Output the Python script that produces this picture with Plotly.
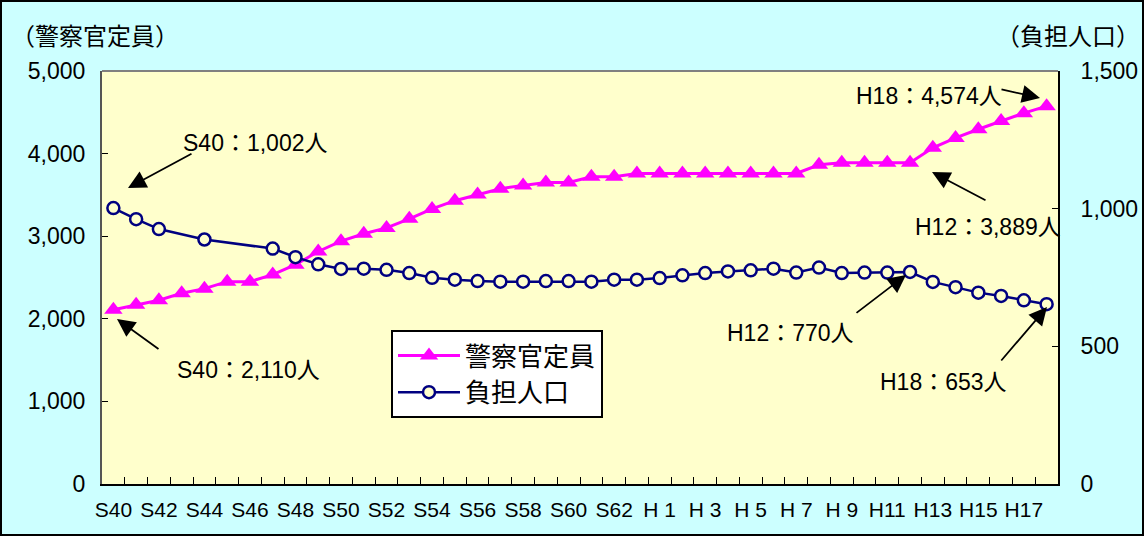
import plotly.graph_objects as go

# ---- data ----
categories = [f"S{n}" for n in range(40, 64)] + [f"H{n}" for n in range(1, 19)]
tick_labels = ["S40", "S42", "S44", "S46", "S48", "S50", "S52", "S54", "S56", "S58",
               "S60", "S62", "H 1", "H 3", "H 5", "H 7", "H 9", "H11", "H13", "H15", "H17"]
police = [2110, 2170, 2225, 2310, 2365, 2450, 2450, 2535, 2655, 2815, 2940, 3030,
          3100, 3210, 3330, 3430, 3505, 3575, 3615, 3650, 3650, 3720, 3720, 3760,
          3760, 3760, 3760, 3760, 3760, 3760, 3760, 3865, 3889, 3889, 3889, 3889,
          4070, 4190, 4295, 4395, 4490, 4574]
burden = [1002, 962, 926, None, 888, None, None, 855, 824, 798, 781, 782,
          778, 766, 749, 742, 737, 735, 735, 737, 737, 735, 742, 742,
          748, 758, 766, 772, 776, 782, 768, 786, 766, 768, 768, 770,
          734, 715, 695, 683, 667, 653]
name_police = "警察官定員"
name_burden = "負担人口"

# ---- layout geometry ----
W, H = 1144, 536
ML, MR, MT, MB = 102, 86, 71, 52
PW, PH = W - ML - MR, H - MT - MB


def px(x):
    return (x - ML) / PW


def py(y):
    return (H - MB - y) / PH


FONT = "Liberation Sans, Arial, Noto Sans CJK JP, sans-serif"
NARROW = "Liberation Sans Narrow, Arial Narrow, Liberation Sans, Noto Sans CJK JP, sans-serif"

fig = go.Figure()
fig.add_trace(go.Scatter(
    x=categories, y=police, name=name_police, mode="lines+markers",
    line=dict(color="#FF00FF", width=3),
    marker=dict(symbol="triangle-up", size=16, color="#FF00FF"),
    yaxis="y",
))
fig.add_trace(go.Scatter(
    x=categories, y=burden, name=name_burden, mode="lines+markers",
    connectgaps=True,
    line=dict(color="#000080", width=2.5),
    marker=dict(symbol="circle", size=12, color="#FFFFCC",
                line=dict(color="#000080", width=2.5)),
    yaxis="y2",
))

ticktext = []
li = 0
for i, c in enumerate(categories):
    if i % 2 == 0 and li < len(tick_labels):
        ticktext.append(tick_labels[li])
        li += 1
    else:
        ticktext.append("")

fig.update_layout(
    width=W, height=H,
    margin=dict(l=ML, r=MR, t=MT, b=MB, autoexpand=False),
    paper_bgcolor="#CCFFFF",
    plot_bgcolor="#FFFFCC",
    font=dict(family=FONT, size=22, color="#000000"),
    showlegend=True,
    legend=dict(
        x=px(391), y=py(330), xanchor="left", yanchor="top",
        bgcolor="#FFFFFF", bordercolor="#000000", borderwidth=2,
        font=dict(size=26, family=FONT),
        itemwidth=62, tracegroupgap=0,
    ),
    xaxis=dict(
        type="category", categoryorder="array", categoryarray=categories,
        range=[-0.5, len(categories) - 0.5], autorange=False,
        tickmode="array", tickvals=categories, ticktext=ticktext,
        tickson="boundaries", ticks="inside", ticklen=7, tickcolor="#000000",
        showline=True, linecolor="#000000", linewidth=2,
        showgrid=False, zeroline=False, automargin=False,
        tickfont=dict(family=NARROW, size=21),
        ticklabelstandoff=6, tickangle=0,
    ),
    yaxis=dict(
        range=[0, 5000], dtick=1000, tickformat=",",
        ticks="inside", ticklen=6, tickcolor="#000000",
        showline=True, linecolor="#555555", linewidth=2,
        showgrid=False, zeroline=False, automargin=False,
        tickfont=dict(size=23), ticklabelstandoff=10,
    ),
    yaxis2=dict(
        range=[0, 1500], dtick=500, tickformat=",",
        overlaying="y", side="right",
        ticks="inside", ticklen=6, tickcolor="#000000",
        showline=True, linecolor="#000000", linewidth=2,
        showgrid=False, zeroline=False, automargin=False,
        tickfont=dict(size=23), ticklabelstandoff=16,
    ),
)

# plot-area top border and outer frame
fig.add_shape(type="line", xref="paper", yref="paper", x0=0, x1=1, y0=1, y1=1,
              line=dict(color="#808080", width=2))
fig.add_shape(type="rect", xref="paper", yref="paper",
              x0=px(1), x1=px(W - 1), y0=py(H - 1), y1=py(1),
              line=dict(color="#000000", width=2), layer="below")

# axis titles
fig.add_annotation(text="（警察官定員）", x=px(95), y=py(36), xref="paper", yref="paper",
                   xanchor="center", yanchor="middle",
                   showarrow=False, font=dict(size=24))
fig.add_annotation(text="（負担人口）", x=px(1068), y=py(36), xref="paper", yref="paper",
                   xanchor="center", yanchor="middle",
                   showarrow=False, font=dict(size=24))

# callout texts
labels = [
    ("S40：1,002人", 255, 143),
    ("S40：2,110人", 248, 370),
    ("H12：770人", 790, 333),
    ("H12：3,889人", 988, 227),
    ("H18：4,574人", 929, 96),
    ("H18：653人", 943, 382),
]
for t, x, y in labels:
    fig.add_annotation(text=t, x=px(x), y=py(y), xref="paper", yref="paper",
                       xanchor="center", yanchor="middle",
                       showarrow=False, font=dict(size=23))

# arrows (tip, tail) in pixels
arrows = [
    ((128, 188), (193, 153)),
    ((117, 319), (160, 350)),
    ((906, 275), (855, 314)),
    ((932, 172), (987, 201)),
    ((1040, 98), (1000, 89)),
    ((1047, 307), (1000, 362)),
]
for (tx, ty), (sx, sy) in arrows:
    fig.add_annotation(text="", x=px(tx), y=py(ty), xref="paper", yref="paper",
                       showarrow=True, ax=sx - tx, ay=sy - ty,
                       arrowhead=2, arrowsize=2, arrowwidth=1.8, arrowcolor="#000000")

fig.write_html("out.html", config={"displayModeBar": False},
               post_script="document.body.style.margin='0';document.body.style.padding='0';")
